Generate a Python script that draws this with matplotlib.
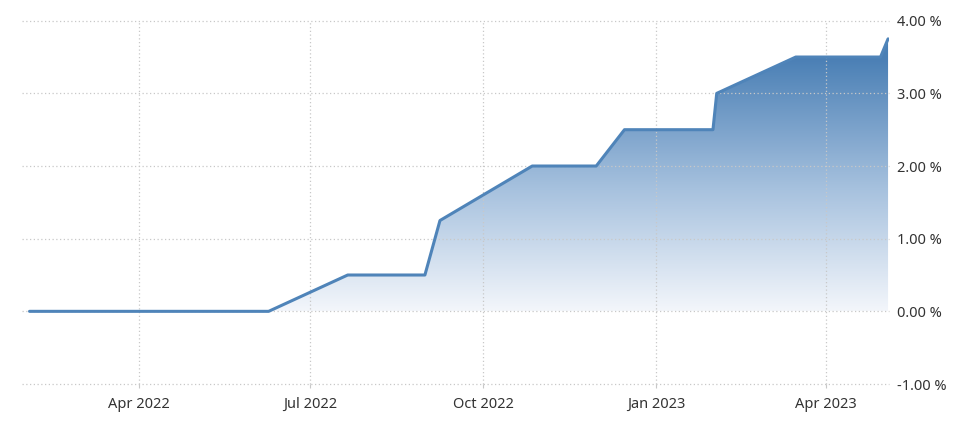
import matplotlib
matplotlib.use("Agg")
import matplotlib.pyplot as plt
import matplotlib.dates as mdates
import numpy as np
import pandas as pd
from matplotlib.colors import LinearSegmentedColormap

dates = [
    "2022-02-02", "2022-03-10", "2022-04-14", "2022-06-09", "2022-07-21",
    "2022-08-31", "2022-09-08", "2022-10-27", "2022-11-30", "2022-12-15",
    "2023-01-31", "2023-02-02", "2023-03-16", "2023-04-30", "2023-05-04",
]
rates = [0.0, 0.0, 0.0, 0.0, 0.5, 0.5, 1.25, 2.0, 2.0, 2.5, 2.5, 3.0, 3.5, 3.5, 3.75]

y_ticks = [-1.0, 0.0, 1.0, 2.0, 3.0, 4.0]
x_ticks = ["2022-04-01", "2022-07-01", "2022-10-01", "2023-01-01", "2023-04-01"]

LINE = "#4f84b9"
GRID = "#c8c8c8"
TEXT = "#333333"

plt.rcParams["font.family"] = ["Noto Sans", "DejaVu Sans"]

x = mdates.date2num(pd.to_datetime(dates))
y = np.array(rates)

fig = plt.figure(figsize=(9.6, 4.23), dpi=100)
ax = fig.add_axes([22 / 960, 39 / 423, (889 - 22) / 960, (384 - 20.7) / 423])

x_left = mdates.date2num(pd.Timestamp("2022-01-29"))
x_right = x[-1] + 0.5
ax.set_xlim(x_left, x_right)
ax.set_ylim(-1.0, 4.0)

# gradient fill under the line, fading to white at 0 %
cmap = LinearSegmentedColormap.from_list(
    "fade", [(0.0, "#f3f6fb"), (0.45, "#a6c1de"), (0.93, "#4a7fb5"), (1.0, "#4a7fb5")]
)
grad = np.linspace(0, 1, 256).reshape(-1, 1)
img = ax.imshow(
    grad, aspect="auto", cmap=cmap, origin="lower",
    extent=[x[0], x[-1], 0.0, y.max()], zorder=1, interpolation="bilinear",
)
poly = ax.fill_between(x, y, 0.0, color="none", linewidth=0)
clip = poly.get_paths()[0]
img.set_clip_path(clip, transform=ax.transData)

ax.plot(x, y, color=LINE, linewidth=2.2, solid_joinstyle="round",
        solid_capstyle="round", zorder=3)

ax.set_yticks(y_ticks)
ax.set_yticklabels([f"{v:.2f} %" for v in y_ticks])
ax.yaxis.tick_right()
ax.tick_params(axis="y", length=0, pad=6, labelsize=10.5, labelcolor=TEXT)

ax.set_xticks(mdates.date2num(pd.to_datetime(x_ticks)))
ax.set_xticklabels([pd.Timestamp(d).strftime("%b %Y") for d in x_ticks])
ax.tick_params(axis="x", length=3, color=GRID, pad=6, labelsize=10.5, labelcolor=TEXT)

ax.grid(True, color=GRID, linestyle=(0, (1, 2)), linewidth=0.9, zorder=2)
ax.set_axisbelow(False)
for gl in ax.get_xgridlines() + ax.get_ygridlines():
    gl.set_clip_on(False)
for s in ax.spines.values():
    s.set_visible(False)

fig.savefig("out.png", dpi=100)
